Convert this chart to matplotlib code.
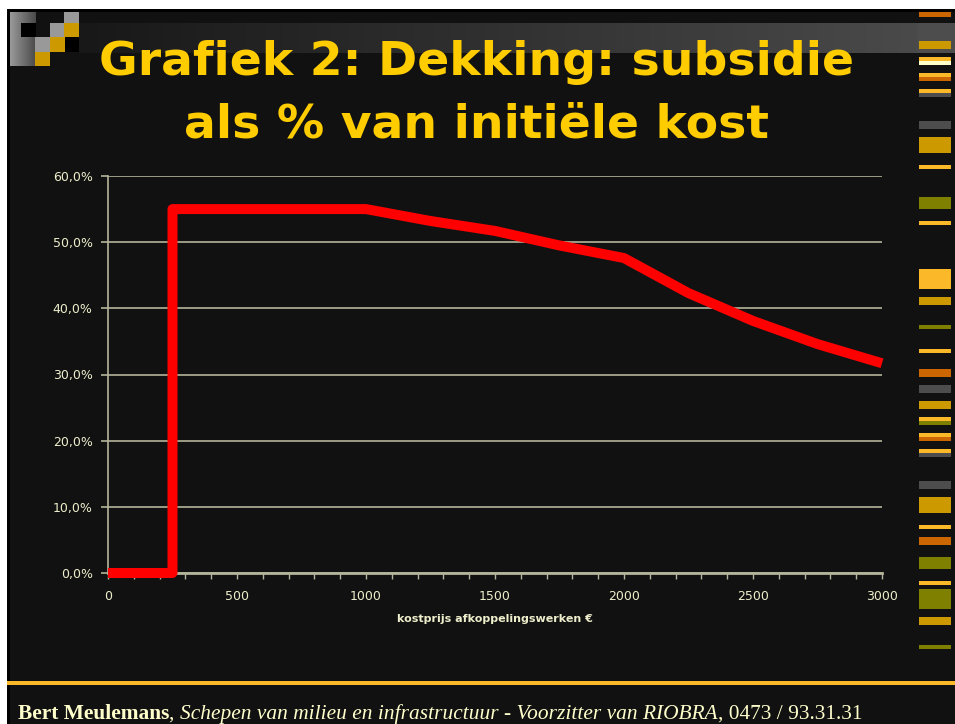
import numpy as np
import matplotlib
matplotlib.use('Agg')
import matplotlib.pyplot as plt
from matplotlib.patches import Rectangle
from matplotlib.ticker import MultipleLocator, FuncFormatter

# data
kostprijs = [0, 250, 250, 500, 750, 1000, 1250, 1500, 1750, 2000, 2250, 2500, 2750, 3000]
dekking = [0.0, 0.0, 55.0, 55.0, 55.0, 55.0, 53.2, 51.7, 49.5, 47.6, 42.3, 38.1, 34.6, 31.7]

titel_1 = 'Grafiek 2: Dekking: subsidie'
titel_2 = 'als % van initiële kost'
x_titel = 'kostprijs afkoppelingswerken €'

W, H = 955, 724
bg = '#111111'
goud = '#ffcc00'
creme = '#eeeecc'
grid_kleur = '#b4b49b'

fig = plt.figure(figsize=(W / 100, H / 100), dpi=100, facecolor='white')

# slide achtergrond in pixel coordinaten
deco = fig.add_axes([0, 0, 1, 1], zorder=0)
deco.set_xlim(0, W)
deco.set_ylim(H, 0)
deco.axis('off')

def blok(x0, y0, x1, y1, kleur):
    deco.add_patch(Rectangle((x0, y0), x1 - x0, y1 - y0, color=kleur, lw=0))

blok(7, 9, W, H, '#000000')
blok(10, 12, W, H, bg)

# grijze band bovenaan met verloop
grad = np.linspace(0, 1, 256)[None, :]
deco.imshow(grad, extent=(79, 918, 53, 23), cmap=matplotlib.colors.LinearSegmentedColormap.from_list(
    'band', ['#181818', '#4a4a4a']), aspect='auto', zorder=1)
blok(918, 23, W, 53, '#4d4d4d')

# blokjes linksboven
deco.imshow(grad, extent=(10, 35, 66, 12), cmap=matplotlib.colors.LinearSegmentedColormap.from_list(
    'kol', ['#9a9a9a', '#4a4a4a']), aspect='auto', zorder=1)
for x0, y0, x1, y1, k in [(21, 23, 36, 37, '#000000'), (64, 12, 79, 23, '#999999'),
                          (50, 23, 64, 37, '#999999'), (64, 23, 79, 37, '#cc9900'),
                          (35, 37, 50, 52, '#999999'), (50, 37, 65, 52, '#cc9900'),
                          (65, 37, 79, 52, '#000000'), (35, 52, 50, 66, '#cc9900')]:
    deco.add_patch(Rectangle((x0, y0), x1 - x0, y1 - y0, color=k, lw=0, zorder=2))

# blokjes rechts
rechts = [(12, 17, '#cc6600'), (41, 49, '#cc9900'), (57, 61, '#fbb829'), (61, 65, '#ffffcc'),
          (73, 77, '#fbb829'), (77, 81, '#cc6600'), (89, 93, '#fbb829'), (93, 97, '#4d4d4d'),
          (121, 129, '#4d4d4d'), (137, 153, '#cc9900'), (165, 169, '#fbb829'), (197, 209, '#808000'),
          (221, 225, '#fbb829'), (269, 289, '#fbb829'), (297, 305, '#cc9900'), (325, 329, '#808000'),
          (349, 353, '#fbb829'), (369, 377, '#cc6600'), (385, 393, '#4d4d4d'), (401, 409, '#cc9900'),
          (417, 421, '#fbb829'), (421, 425, '#808000'), (433, 437, '#fbb829'), (437, 441, '#cc6600'),
          (449, 453, '#fbb829'), (453, 457, '#4d4d4d'), (481, 489, '#4d4d4d'), (497, 513, '#cc9900'),
          (525, 529, '#fbb829'), (537, 545, '#cc6600'), (557, 569, '#808000'), (581, 585, '#fbb829'),
          (589, 609, '#808000'), (617, 625, '#cc9900'), (645, 649, '#808000')]
for y0, y1, k in rechts:
    deco.add_patch(Rectangle((919, y0), 32, y1 - y0, color=k, lw=0, zorder=2))

# oranje lijn onderaan
deco.add_patch(Rectangle((7, 681), W - 7, 4, color='#fbb829', lw=0, zorder=2))

# titel
deco.text(476, 75, titel_1, color=goud, fontsize=34, fontweight='bold',
          ha='center', va='baseline', zorder=3)
deco.text(476, 137, titel_2, color=goud, fontsize=34, fontweight='bold',
          ha='center', va='baseline', zorder=3)

# voettekst in stukjes
stukken = [('Bert Meulemans', 'bold', 'normal'), (', ', 'normal', 'normal'),
           ('Schepen van milieu en infrastructuur - Voorzitter van RIOBRA', 'normal', 'italic'),
           (', 0473 / 93.31.31', 'normal', 'normal')]
renderer = fig.canvas.get_renderer()
x = 18
for tekst, gewicht, stijl in stukken:
    t = deco.text(x, 719, tekst, color='#ffffcc', fontsize=15.4, family='Liberation Serif',
                  fontweight=gewicht, fontstyle=stijl, va='baseline', ha='left', zorder=3)
    bb = t.get_window_extent(renderer)
    x += bb.width

# de grafiek zelf
ax = fig.add_axes([108 / W, 1 - 573 / H, (882 - 108) / W, (573 - 176) / H], zorder=2)
ax.set_facecolor('none')
ax.plot(kostprijs, dekking, color='#ff0000', lw=7.2, solid_joinstyle='round',
        solid_capstyle='butt', clip_on=False, zorder=5)

ax.set_xlim(0, 3000)
ax.set_ylim(0, 60)
ax.xaxis.set_major_locator(MultipleLocator(500))
ax.xaxis.set_minor_locator(MultipleLocator(100))
ax.yaxis.set_major_locator(MultipleLocator(10))
ax.yaxis.set_major_formatter(FuncFormatter(lambda v, p: f'{v:.1f}%'.replace('.', ',')))
ax.grid(axis='y', color=grid_kleur, lw=1.2)
ax.set_axisbelow(True)
for s in ['top', 'right']:
    ax.spines[s].set_visible(False)
for s in ['left', 'bottom']:
    ax.spines[s].set_color(grid_kleur)
ax.spines['bottom'].set_linewidth(2)
ax.spines['left'].set_linewidth(1.2)
ax.tick_params(axis='both', which='both', colors=grid_kleur, labelcolor=creme, labelsize=9)
ax.tick_params(axis='x', which='both', length=4, width=1, pad=8)
ax.tick_params(axis='y', length=5, width=1.2, pad=6)
ax.set_xlabel(x_titel, color=creme, fontsize=8, fontweight='bold', labelpad=8)

fig.savefig('out.png', dpi=100, facecolor='white')
